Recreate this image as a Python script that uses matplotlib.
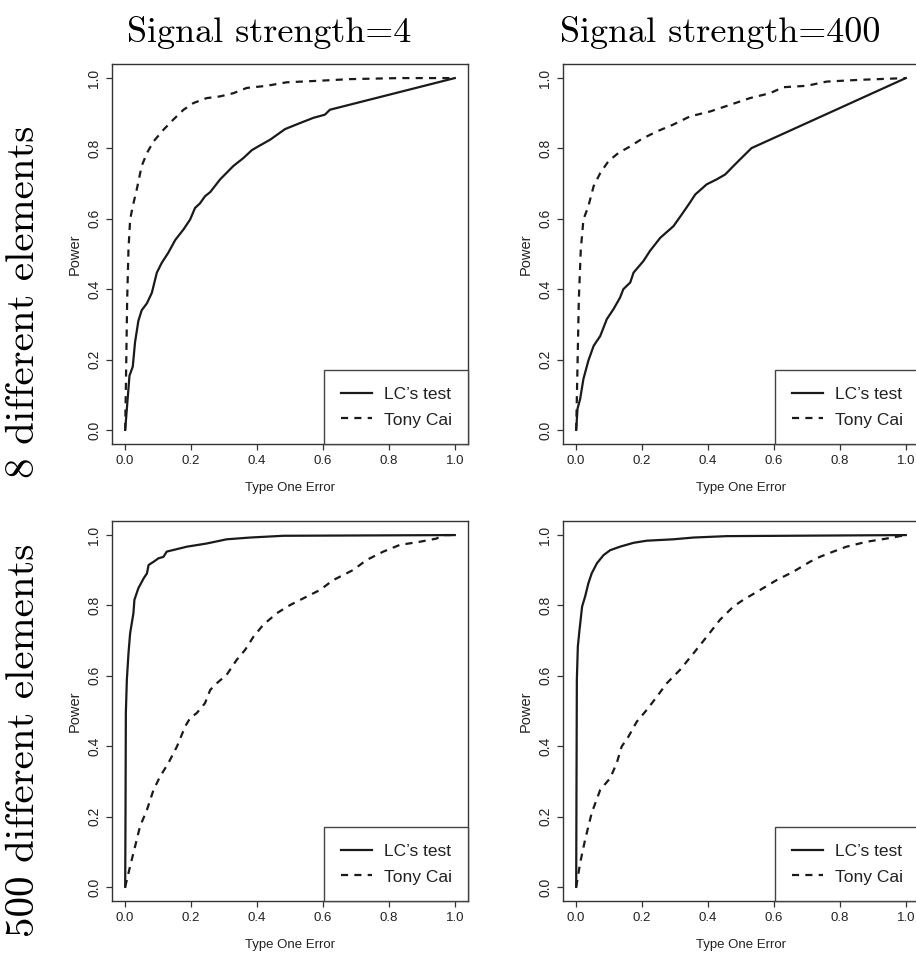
import matplotlib
matplotlib.use("Agg")
import matplotlib.pyplot as plt

plt.rcParams['font.family'] = ['Liberation Sans', 'DejaVu Sans']
plt.rcParams['mathtext.fontset'] = 'cm'

# ---- data (type one error, power) ----
# signal strength 4, 8 different elements
lc_s4_n8_x = [0, 0.013, 0.023, 0.03, 0.04, 0.05, 0.066, 0.081, 0.096, 0.111, 0.131, 0.152,
              0.177, 0.197, 0.212, 0.227, 0.242, 0.258, 0.288, 0.328, 0.359, 0.384, 0.404,
              0.44, 0.485, 0.53, 0.571, 0.606, 0.621, 1.0]
lc_s4_n8_y = [0, 0.154, 0.18, 0.25, 0.31, 0.34, 0.36, 0.39, 0.447, 0.475, 0.504, 0.54,
              0.57, 0.598, 0.631, 0.644, 0.664, 0.676, 0.712, 0.75, 0.773, 0.795, 0.806,
              0.825, 0.855, 0.872, 0.887, 0.896, 0.91, 1.0]
cai_s4_n8_x = [0, 0.003, 0.006, 0.01, 0.015, 0.023, 0.035, 0.05, 0.066, 0.086, 0.116, 0.146,
               0.177, 0.207, 0.247, 0.288, 0.328, 0.369, 0.429, 0.49, 0.58, 0.682, 0.833, 1.0]
cai_s4_n8_y = [0, 0.18, 0.37, 0.513, 0.598, 0.636, 0.683, 0.75, 0.787, 0.82, 0.853, 0.882,
               0.91, 0.929, 0.943, 0.948, 0.957, 0.972, 0.978, 0.988, 0.992, 0.997, 1.0, 1.0]

# signal strength 400, 8 different elements
lc_s400_n8_x = [0, 0.004, 0.012, 0.022, 0.037, 0.053, 0.073, 0.093, 0.113, 0.133, 0.143,
                0.164, 0.174, 0.204, 0.224, 0.255, 0.295, 0.32, 0.345, 0.361, 0.396, 0.426,
                0.452, 0.477, 0.507, 0.532, 1.0]
lc_s400_n8_y = [0, 0.06, 0.088, 0.145, 0.197, 0.239, 0.267, 0.315, 0.343, 0.376, 0.4,
                0.419, 0.447, 0.48, 0.509, 0.546, 0.579, 0.612, 0.646, 0.669, 0.698, 0.712,
                0.726, 0.75, 0.778, 0.801, 1.0]
cai_s400_n8_x = [0, 0.004, 0.008, 0.014, 0.022, 0.037, 0.053, 0.073, 0.098, 0.128, 0.164,
                 0.199, 0.244, 0.295, 0.345, 0.406, 0.467, 0.527, 0.588, 0.628, 0.699, 0.76,
                 0.86, 1.0]
cai_s400_n8_y = [0, 0.182, 0.371, 0.513, 0.598, 0.636, 0.693, 0.73, 0.764, 0.787, 0.806,
                 0.827, 0.848, 0.868, 0.891, 0.905, 0.924, 0.943, 0.957, 0.974, 0.978, 0.99,
                 0.995, 1.0]

# signal strength 4, 500 different elements
lc_s4_n500_x = [0, 0.001, 0.002, 0.005, 0.01, 0.015, 0.025, 0.028, 0.04, 0.056, 0.066, 0.071,
                0.086, 0.101, 0.116, 0.126, 0.187, 0.247, 0.308, 0.379, 0.48, 1.0]
lc_s4_n500_y = [0, 0.21, 0.494, 0.588, 0.664, 0.721, 0.778, 0.816, 0.849, 0.877, 0.891, 0.915,
                0.924, 0.934, 0.938, 0.953, 0.967, 0.976, 0.988, 0.993, 0.998, 1.0]
cai_s4_n500_x = [0, 0.015, 0.03, 0.045, 0.066, 0.086, 0.106, 0.131, 0.157, 0.182, 0.197, 0.217,
                 0.242, 0.258, 0.278, 0.308, 0.338, 0.364, 0.389, 0.419, 0.46, 0.5, 0.54,
                 0.591, 0.631, 0.692, 0.732, 0.783, 0.833, 0.894, 0.944, 0.965, 1.0]
cai_s4_n500_y = [0, 0.059, 0.115, 0.172, 0.219, 0.276, 0.314, 0.352, 0.399, 0.456, 0.48, 0.494,
                 0.522, 0.56, 0.579, 0.603, 0.645, 0.674, 0.711, 0.745, 0.778, 0.801, 0.82,
                 0.844, 0.872, 0.901, 0.929, 0.953, 0.972, 0.981, 0.99, 1.0, 1.0]

# signal strength 400, 500 different elements
lc_s400_n500_x = [0, 0.001, 0.002, 0.005, 0.01, 0.018, 0.027, 0.037, 0.047, 0.063, 0.083,
                  0.103, 0.133, 0.174, 0.214, 0.295, 0.356, 0.457, 1.0]
lc_s400_n500_y = [0, 0.305, 0.588, 0.683, 0.73, 0.797, 0.825, 0.863, 0.891, 0.92, 0.943,
                  0.957, 0.967, 0.978, 0.984, 0.988, 0.993, 0.997, 1.0]
cai_s400_n500_x = [0, 0.012, 0.027, 0.047, 0.073, 0.103, 0.123, 0.138, 0.159, 0.184, 0.214,
                   0.245, 0.275, 0.315, 0.356, 0.396, 0.436, 0.477, 0.507, 0.558, 0.608, 0.659,
                   0.709, 0.739, 0.78, 0.82, 0.881, 0.941, 1.0]
cai_s400_n500_y = [0, 0.068, 0.134, 0.21, 0.276, 0.309, 0.352, 0.399, 0.428, 0.47, 0.503,
                   0.541, 0.579, 0.617, 0.664, 0.711, 0.759, 0.797, 0.816, 0.844, 0.872, 0.896,
                   0.924, 0.938, 0.953, 0.967, 0.981, 0.99, 1.0]

col_titles = ['Signal strength=4', 'Signal strength=400']
row_titles = ['8 different elements', '500 different elements']
ticks = [0.0, 0.2, 0.4, 0.6, 0.8, 1.0]
tick_labels = ['0.0', '0.2', '0.4', '0.6', '0.8', '1.0']

panels = [
    [(lc_s4_n8_x, lc_s4_n8_y, cai_s4_n8_x, cai_s4_n8_y),
     (lc_s400_n8_x, lc_s400_n8_y, cai_s400_n8_x, cai_s400_n8_y)],
    [(lc_s4_n500_x, lc_s4_n500_y, cai_s4_n500_x, cai_s4_n500_y),
     (lc_s400_n500_x, lc_s400_n500_y, cai_s400_n500_x, cai_s400_n500_y)],
]

W, H = 916, 956
fig = plt.figure(figsize=(W / 100, H / 100), dpi=100)

lefts = [112, 563]
tops = [64, 521]
aw, ah = 356, 380
line_col = '#1a1a1a'
box_col = '#333333'
txt_col = '#222222'

for r in range(2):
    for c in range(2):
        ax = fig.add_axes([lefts[c] / W, (H - tops[r] - ah) / H, aw / W, ah / H])
        lx, ly, cx, cy = panels[r][c]
        ax.plot(lx, ly, color=line_col, lw=1.6, label="LC\u2019s test")
        ax.plot(cx, cy, color=line_col, lw=1.6, dashes=(3.2, 2.8), label='Tony Cai')
        ax.set_xlim(-0.04, 1.04)
        ax.set_ylim(-0.04, 1.04)
        ax.set_xticks(ticks)
        ax.set_xticklabels(tick_labels, fontsize=9.5, color=txt_col)
        ax.set_yticks(ticks)
        ax.set_yticklabels(tick_labels, fontsize=10, color=txt_col, rotation=90, va='center')
        ax.tick_params(length=4.3, width=0.9, color=box_col, pad=3.5)
        for s in ax.spines.values():
            s.set_color(box_col)
            s.set_linewidth(1.0)
        ax.set_xlabel('Type One Error', fontsize=9.5, color=txt_col, va='center')
        ax.xaxis.set_label_coords(0.5, -44 / ah)
        ax.set_ylabel('Power', fontsize=10.5, color=txt_col, va='center')
        ax.yaxis.set_label_coords(-37 / aw, 0.5)
        leg = ax.legend(loc='lower right', borderaxespad=0, fancybox=False, framealpha=1,
                        fontsize=12.5, handlelength=1.8, handletextpad=0.65,
                        borderpad=0.95, labelspacing=0.6)
        leg.get_frame().set_edgecolor('#444444')
        leg.get_frame().set_linewidth(1.0)
        for t in leg.get_texts():
            t.set_color(txt_col)

fig.text(269 / W, 1 - 42 / H, col_titles[0], family='cmr10', fontsize=26,
         ha='center', va='baseline')
fig.text(720 / W, 1 - 42 / H, col_titles[1], family='cmr10', fontsize=26,
         ha='center', va='baseline')
fig.text(24 / W, 1 - 302 / H, row_titles[0], family='cmr10', fontsize=29.5,
         rotation=90, ha='center', va='center')
fig.text(24 / W, 1 - 740 / H, row_titles[1], family='cmr10', fontsize=29.5,
         rotation=90, ha='center', va='center')

fig.savefig('out.png', dpi=100)
